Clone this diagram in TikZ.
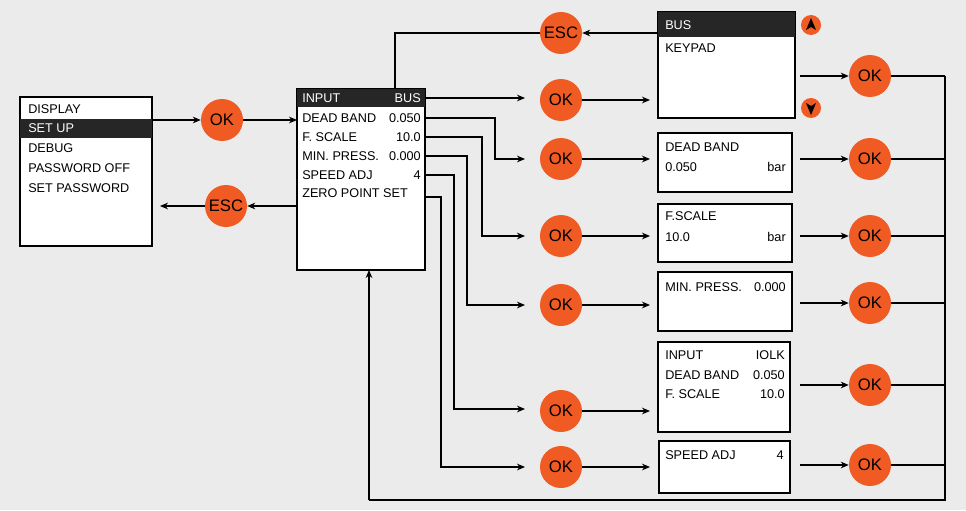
\documentclass[tikz,border=0pt]{standalone}
\usepackage{fontspec}
\setmainfont{Liberation Sans}
\usetikzlibrary{arrows.meta}
\definecolor{bg}{HTML}{EBEBEB}
\definecolor{org}{HTML}{F05A23}
\begin{document}
\begin{tikzpicture}[x=0.75pt,y=-0.75pt,
  btn/.style={circle,fill=org,minimum size=31.5pt,inner sep=0pt,font=\fontsize{12.5}{13}\selectfont},
  scr/.style={draw,fill=white,line width=0.8pt},
  t/.style={anchor=west,inner sep=0pt,font=\fontsize{9.5}{10}\selectfont},
  tr/.style={anchor=east,inner sep=0pt,font=\fontsize{9.5}{10}\selectfont},
  ar/.style={-{Stealth[length=6pt,width=5pt]},line width=0.8pt},
  ln/.style={line width=0.8pt}]
\fill[bg] (0,0) rectangle (966,510);
\useasboundingbox (0,0) rectangle (966,510);
% left menu
\draw[scr] (20,97) rectangle (152,246);
\fill[black!85] (20,119) rectangle (152,138);
\node[t] at (28,109) {DISPLAY};
\node[t,white] at (28,128) {SET UP};
\node[t] at (28,148) {DEBUG};
\node[t] at (28,168) {PASSWORD OFF};
\node[t] at (28,188) {SET PASSWORD};
\coordinate (m1) at (152,120); \coordinate (m2) at (152,206);
% main menu
\draw[scr] (297,89) rectangle (425,270);
\fill[black!85] (297,89) rectangle (425,107);
\node[t,white] at (302,98) {INPUT}; \node[tr,white] at (421,98) {BUS};
\node[t] at (302,118) {DEAD BAND}; \node[tr] at (421,118) {0.050};
\node[t] at (302,137) {F. SCALE}; \node[tr] at (421,137) {10.0};
\node[t] at (302,156) {MIN. PRESS.}; \node[tr] at (421,156) {0.000};
\node[t] at (302,175) {SPEED ADJ}; \node[tr] at (421,175) {4};
\node[t] at (302,193) {ZERO POINT SET};
\coordinate (r0) at (425,98); \coordinate (r1) at (425,118); \coordinate (r2) at (425,137);
\coordinate (r3) at (425,156); \coordinate (r4) at (425,175); \coordinate (r5) at (425,197);
\coordinate (mi1) at (297,120); \coordinate (mi2) at (297,206);
\coordinate (mtop) at (395,89); \coordinate (mbot) at (369,270);
% left buttons
\node[btn] (ok0) at (222,120) {OK};
\node[btn] (esc0) at (226,206) {ESC};
\draw[ar] (m1) -- (ok0);
\draw[ar] (ok0) -- (mi1);
\draw[ar] (mi2) -- (esc0);
\draw[ar] (esc0) -- (160,206);
% top ESC
\node[btn] (esc1) at (561,33) {ESC};
\draw[ln] (mtop) |- (esc1.west);
% BUS screen
\draw[scr] (658,12) rectangle (795,118);
\fill[black!85] (658,12) rectangle (795,37);
\node[t,white] at (665,25) {BUS};
\node[t] at (665,48) {KEYPAD};
\coordinate (busl) at (658,33);
\draw[ar] (busl) -- (esc1);
\node[circle,fill=org,minimum size=15pt,inner sep=0pt] (up) at (811,25) {};
\fill (806,30) -- (811,18) -- (816,30) -- (811,27) -- cycle;
\node[circle,fill=org,minimum size=15pt,inner sep=0pt] (dn) at (811,108) {};
\fill (806,103) -- (811,115) -- (816,103) -- (811,106) -- cycle;
% column of OK
\node[btn] (a0) at (561,100) {OK};
\node[btn] (a1) at (561,159) {OK};
\node[btn] (a2) at (561,236) {OK};
\node[btn] (a3) at (561,305) {OK};
\node[btn] (a4) at (561,411) {OK};
\node[btn] (a5) at (561,467) {OK};
\draw[ar] (r0) -- (525,98);
\draw[ar] (r1) -| (495,159) -- (525,159);
\draw[ar] (r2) -| (482,236) -- (525,236);
\draw[ar] (r3) -| (467,305) -- (525,305);
\draw[ar] (r4) -| (454,409) -- (525,409);
\draw[ar] (r5) -| (441,467) -- (525,467);
% screens
\draw[scr] (658,133) rectangle (792,192);
\node[t] at (665,147) {DEAD BAND};
\node[t] at (665,167) {0.050}; \node[tr] at (786,167) {bar};
\draw[scr] (658,204) rectangle (792,262);
\node[t] at (665,216) {F.SCALE};
\node[t] at (665,237) {10.0}; \node[tr] at (786,237) {bar};
\draw[scr] (658,272) rectangle (792,331);
\node[t] at (665,287) {MIN. PRESS.}; \node[tr] at (786,287) {0.000};
\draw[scr] (658,342) rectangle (790,432);
\node[t] at (665,355) {INPUT}; \node[tr] at (785,355) {IOLK};
\node[t] at (665,375) {DEAD BAND}; \node[tr] at (785,375) {0.050};
\node[t] at (665,394) {F. SCALE}; \node[tr] at (785,394) {10.0};
\draw[scr] (659,441) rectangle (790,493);
\node[t] at (665,455) {SPEED ADJ}; \node[tr] at (784,455) {4};
\draw[ar] (582,100) -- (650,100);
\draw[ar] (582,159) -- (650,159);
\draw[ar] (582,236) -- (650,236);
\draw[ar] (582,305) -- (650,305);
\draw[ar] (582,411) -- (650,411);
\draw[ar] (582,467) -- (650,467);
% right OKs
\node[btn] (b0) at (870,76) {OK};
\node[btn] (b1) at (870,159) {OK};
\node[btn] (b2) at (870,236) {OK};
\node[btn] (b3) at (870,303) {OK};
\node[btn] (b4) at (870,385) {OK};
\node[btn] (b5) at (870,465) {OK};
\foreach \i/\y in {0/76,1/159,2/236,3/303,4/385,5/465}{
  \draw[ar] (800,\y) -- (b\i);
  \draw[ln] (b\i) -- (945,\y);
}
\draw[ln] (945,76) -- (945,500) -- (369,500);
\draw[ar] (369,500) -- (mbot);
\end{tikzpicture}
\end{document}
